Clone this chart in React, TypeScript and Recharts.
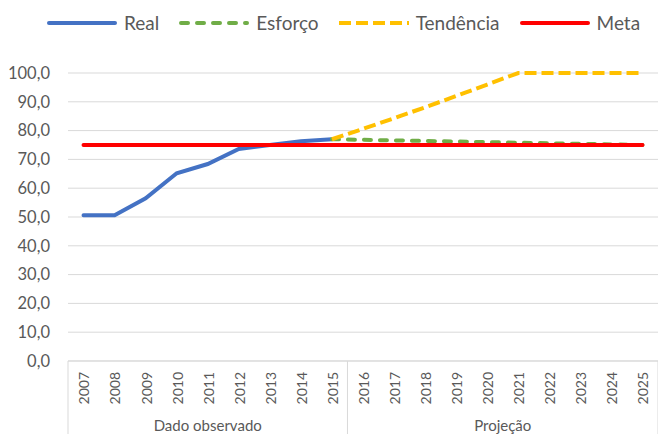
import { LineChart, Line, XAxis, YAxis, CartesianGrid } from "recharts";

const years = [
  "2007", "2008", "2009", "2010", "2011", "2012", "2013", "2014", "2015", "2016",
  "2017", "2018", "2019", "2020", "2021", "2022", "2023", "2024", "2025",
];

// values
const real = [50.6, 50.6, 56.5, 65.2, 68.4, 73.6, 75.0, 76.3, 77.0, null, null, null, null, null, null, null, null, null, null];
const esforco = [null, null, null, null, null, null, null, null, 77.0, 76.8, 76.6, 76.4, 76.2, 76.0, 75.8, 75.6, 75.4, 75.2, 75.0];
const tendencia = [null, null, null, null, null, null, null, null, 77.0, 80.6, 84.3, 88.1, 92.0, 96.0, 100.0, 100.0, 100.0, 100.0, 100.0];
const meta = [75, 75, 75, 75, 75, 75, 75, 75, 75, 75, 75, 75, 75, 75, 75, 75, 75, 75, 75];

const yTicks = [0, 10, 20, 30, 40, 50, 60, 70, 80, 90, 100];

const groups = [
  { label: "Dado observado", start: 0, size: 9 },
  { label: "Projeção", start: 9, size: 10 },
];

const series = [
  { key: "real", name: "Real", color: "#4472C4", dash: undefined, cap: "round" },
  { key: "esforco", name: "Esforço", color: "#70AD47", dash: "7 9", cap: "round" },
  { key: "tendencia", name: "Tendência", color: "#FFC000", dash: "12 5", cap: "butt" },
  { key: "meta", name: "Meta", color: "#FF0000", dash: undefined, cap: "round" },
];

const data = years.map((year, i) => ({
  year,
  real: real[i],
  esforco: esforco[i],
  tendencia: tendencia[i],
  meta: meta[i],
}));

const FONT = "Lato, 'Liberation Sans', sans-serif";
const TEXT = "#595959";
const GRID = "#d9d9d9";

const fmt = (v: number) => v.toFixed(1).replace(".", ",");

function YearTick(props: any) {
  const { x, y, payload, index } = props;
  let half = payload && typeof payload.offset === "number" && payload.offset > 0 ? payload.offset : 0;
  if (!half) half = props.width ? props.width / years.length / 2 : 15.5;
  const group = groups.find((g) => g.start === index);
  const last = index === years.length - 1;
  return (
    <g>
      <text
        transform={`translate(${x + 1},${y + 11}) rotate(-90)`}
        textAnchor="end"
        dy="0.35em"
        fill={TEXT}
        fontSize={14}
        fontFamily={FONT}
      >
        {payload.value}
      </text>
      {group && (
        <>
          <line x1={x - half} x2={x - half} y1={y} y2={y + 73} stroke={GRID} />
          <text
            x={x - half + group.size * half}
            y={y + 70}
            textAnchor="middle"
            fill={TEXT}
            fontSize={15}
            fontFamily={FONT}
          >
            {group.label}
          </text>
        </>
      )}
      {last && <line x1={x + half} x2={x + half} y1={y} y2={y + 73} stroke={GRID} />}
    </g>
  );
}

function ChartLegend() {
  return (
    <div
      style={{
        position: "absolute",
        top: 9,
        left: 47,
        display: "flex",
        alignItems: "center",
        fontFamily: FONT,
        fontSize: 19,
        color: TEXT,
        lineHeight: "27px",
      }}
    >
      {series.map((s) => (
        <div key={s.key} style={{ display: "flex", alignItems: "center", marginRight: 20 }}>
          <svg width={70} height={8} style={{ marginRight: 7 }}>
            <line
              x1={s.cap === "round" ? 2 : 0}
              x2={s.cap === "round" ? 68 : 70}
              y1={4}
              y2={4}
              stroke={s.color}
              strokeWidth={4}
              strokeDasharray={s.dash}
              strokeLinecap={s.cap as any}
            />
          </svg>
          <span>{s.name}</span>
        </div>
      ))}
    </div>
  );
}

export default function App() {
  return (
    <div style={{ position: "absolute", left: 0, top: 0, width: 658, height: 434, background: "#fff" }}>
      <LineChart width={658} height={434} data={data} margin={{ top: 73, right: 0, bottom: 0, left: 0 }}>
        <CartesianGrid vertical={false} stroke={GRID} />
        <XAxis
          dataKey="year"
          scale="band"
          interval={0}
          height={73}
          tickSize={0}
          tickMargin={0}
          tickLine={false}
          axisLine={{ stroke: GRID }}
          tick={<YearTick />}
        />
        <YAxis
          domain={[0, 100]}
          ticks={yTicks}
          width={68}
          tickSize={0}
          tickMargin={18}
          tickLine={false}
          axisLine={false}
          tickFormatter={fmt}
          tick={{ fill: TEXT, fontSize: 16.5, fontFamily: FONT }}
        />
        {series.map((s) => (
          <Line
            key={s.key}
            dataKey={s.key}
            name={s.name}
            type="linear"
            stroke={s.color}
            strokeWidth={4}
            strokeDasharray={s.dash}
            strokeLinecap={s.cap as any}
            dot={false}
            activeDot={false}
            isAnimationActive={false}
          />
        ))}
      </LineChart>
      <ChartLegend />
    </div>
  );
}
